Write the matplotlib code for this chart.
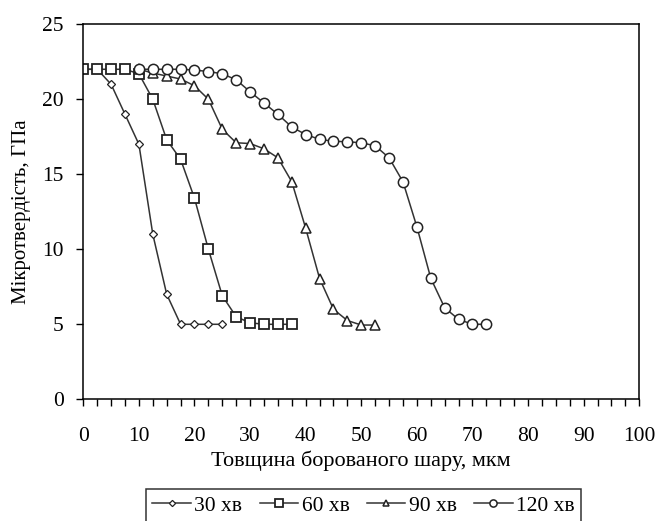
import numpy as np
import matplotlib
matplotlib.use('Agg')
import matplotlib.pyplot as plt
from matplotlib.ticker import MultipleLocator

plt.rcParams['font.family'] = ['Liberation Serif', 'DejaVu Serif']

# thickness of borided layer, um
x_30 = [0, 2.5, 5, 7.5, 10, 12.5, 15, 17.5, 20, 22.5, 25]
y_30 = [22, 22, 21, 19, 17, 11, 7, 5, 5, 5, 5]

x_60 = [0, 2.5, 5, 7.5, 10, 12.5, 15, 17.5, 20, 22.5, 25, 27.5, 30, 32.5, 35, 37.5]
y_60 = [22, 22, 22, 22, 21.7, 20, 17.3, 16, 13.4, 10, 6.9, 5.5, 5.1, 5, 5, 5]

x_90 = [10, 12.5, 15, 17.5, 20, 22.5, 25, 27.5, 30, 32.5, 35, 37.5, 40, 42.5, 45, 47.5, 50, 52.5]
y_90 = [22, 21.75, 21.55, 21.35, 20.9, 20, 18, 17.1, 17.05, 16.7, 16.1, 14.5, 11.4, 8.05, 6, 5.25, 4.95, 4.95]

x_120 = [10, 12.5, 15, 17.5, 20, 22.5, 25, 27.5, 30, 32.5, 35, 37.5, 40, 42.5, 45, 47.5,
         50, 52.5, 55, 57.5, 60, 62.5, 65, 67.5, 70, 72.5]
y_120 = [22, 22, 22, 22, 21.95, 21.85, 21.7, 21.3, 20.5, 19.75, 19, 18.15, 17.65, 17.33, 17.2, 17.17,
         17.1, 16.9, 16.1, 14.5, 11.5, 8.07, 6.1, 5.33, 5, 5]

labels = ['30 хв', '60 хв', '90 хв', '120 хв']

fig = plt.figure(figsize=(6.57, 5.21), dpi=100)
ax = fig.add_axes([0.1268, 0.2336, 0.8462, 0.7198])

style = dict(color='#333333', lw=1.1, mfc='white', mec='#222222')
ax.plot(x_30, y_30, marker='D', ms=4.5, mew=0.9, label=labels[0], **style)
ax.plot(x_60, y_60, marker='s', ms=7.3, mew=1.3, label=labels[1], **style)
ax.plot(x_90, y_90, marker='^', ms=6.5, mew=1.1, label=labels[2], **style)
ax.plot(x_120, y_120, marker='o', ms=7.4, mew=1.1, label=labels[3], **style)

ax.set_xlim(0, 100)
ax.set_ylim(0, 25)
ax.xaxis.set_major_locator(MultipleLocator(10))
ax.xaxis.set_minor_locator(MultipleLocator(2.5))
ax.yaxis.set_major_locator(MultipleLocator(5))
ax.tick_params(axis='both', which='both', direction='out', length=5, width=1, labelsize=15.5, color='black')
ax.tick_params(axis='x', which='major', pad=15)
ax.tick_params(axis='y', which='major', pad=9)
for s in ax.spines.values():
    s.set_linewidth(1.1)
    s.set_color('black')

ax.set_xlabel('Товщина борованого шару, мкм', fontsize=16, labelpad=3)
ax.set_ylabel('Мікротвердість, ГПа', fontsize=15, labelpad=8)

leg = fig.legend(loc='upper left', bbox_to_anchor=(146 / 657, 1 - 489 / 521), ncol=4,
                 fontsize=15.5, frameon=True, fancybox=False, edgecolor='black',
                 handlelength=1.8, handletextpad=0.15, columnspacing=0.8, borderpad=0.3,
                 borderaxespad=0, markerscale=0.7)
leg.get_frame().set_linewidth(1.1)

fig.savefig('out.png', dpi=100)
